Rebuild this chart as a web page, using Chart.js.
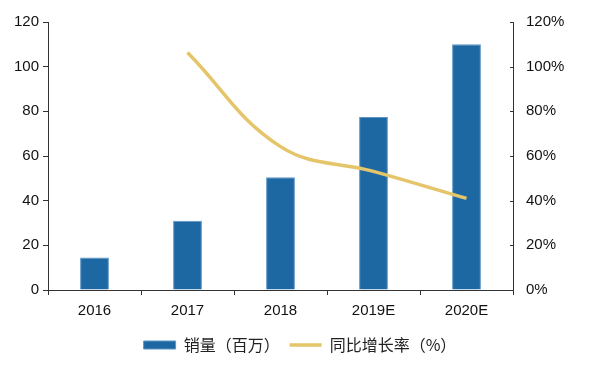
<!DOCTYPE html>
<html>
<head>
<meta charset="utf-8">
<script src="https://cdn.jsdelivr.net/npm/chart.js@4.4.1/dist/chart.umd.min.js"></script>
<style>
  html, body { margin: 0; padding: 0; background: #fff; }
</style>
</head>
<body>
<canvas id="chart" width="600" height="373"></canvas>
<script>
const years = ["2016", "2017", "2018", "2019E", "2020E"];
const sales = [14.5, 31, 50.5, 77.5, 110];          // 销量（百万）
const growth = [null, 1.063, 0.642, 0.531, 0.41];   // 同比增长率
const salesLabel = "销量（百万）";
const growthLabel = "同比增长率（%）";

const axisColor = "#333";
const tickFont = { family: "'Liberation Sans', Arial, sans-serif", size: 15 };

// right axis: short tick marks drawn on the inner side
const innerTicks = {
  id: "innerTicks",
  afterDraw(chart) {
    const s = chart.scales.y1;
    const ctx = chart.ctx;
    ctx.save();
    ctx.strokeStyle = axisColor;
    ctx.lineWidth = 1;
    s.ticks.forEach(t => {
      const y = Math.round(s.getPixelForValue(t.value)) + 0.5;
      ctx.beginPath();
      ctx.moveTo(s.left - 3, y);
      ctx.lineTo(s.left, y);
      ctx.stroke();
    });
    ctx.restore();
  }
};

new Chart(document.getElementById("chart"), {
  data: {
    labels: years,
    datasets: [
      {
        type: "line",
        label: growthLabel,
        data: growth,
        yAxisID: "y1",
        borderColor: "#E5C56A",
        backgroundColor: "#E5C56A",
        borderWidth: 3.5,
        pointRadius: 0,
        tension: 0.4,
        pointStyle: "line",
        order: 0
      },
      {
        type: "bar",
        label: salesLabel,
        data: sales,
        yAxisID: "y",
        backgroundColor: "#1D67A3",
        borderColor: "#5E95C4",
        borderWidth: 1,
        barPercentage: 0.31,
        categoryPercentage: 1,
        pointStyle: "rect",
        order: 1
      }
    ]
  },
  options: {
    responsive: false,
    animation: false,
    layout: { padding: { top: 20, bottom: 10 } },
    plugins: {
      tooltip: { enabled: false },
      legend: {
        position: "bottom",
        reverse: true,
        labels: {
          usePointStyle: true,
          pointStyleWidth: 32,
          boxHeight: 8,
          padding: 10,
          color: "#222",
          font: { family: "'Noto Sans CJK SC', sans-serif", size: 16 }
        }
      }
    },
    scales: {
      x: {
        offset: true,
        grid: { drawOnChartArea: false, offset: true, tickLength: 5, color: axisColor },
        border: { color: axisColor },
        ticks: { color: "#111", font: tickFont, padding: 7 }
      },
      y: {
        min: 0, max: 120,
        ticks: { stepSize: 20, color: "#111", font: tickFont, padding: 4 },
        grid: { drawOnChartArea: false, tickLength: 5, color: axisColor },
        border: { color: axisColor },
        afterFit(s) { s.width = 48; }
      },
      y1: {
        position: "right",
        min: 0, max: 1.2,
        ticks: {
          stepSize: 0.2, color: "#111", font: tickFont, padding: 13,
          callback: v => Math.round(v * 100) + "%"
        },
        grid: { drawOnChartArea: false, drawTicks: false },
        border: { color: axisColor },
        afterFit(s) { s.width = 87; }
      }
    }
  },
  plugins: [innerTicks]
});
</script>
</body>
</html>
